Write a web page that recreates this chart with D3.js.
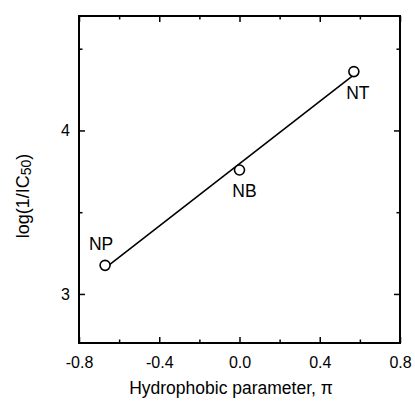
<!DOCTYPE html>
<html>
<head>
<meta charset="utf-8">
<script src="https://cdn.jsdelivr.net/npm/d3@7"></script>
<style>
  body { margin: 0; background: #fff; }
  svg { font-family: "Liberation Sans", Arial, sans-serif; }
</style>
</head>
<body>
<div id="chart"></div>
<script>
// data
const compounds = ["NP", "NB", "NT"];
const piValues = [-0.67, 0.0, 0.57];
const logIC = [3.175, 3.758, 4.36];

const xMajor = [-0.8, -0.4, 0.0, 0.4, 0.8];
const xMinor = [-0.6, -0.2, 0.2, 0.6];
const yMajor = [3, 4];
const yMinor = [3.5, 4.5];

const width = 415, height = 411;
const margin = { top: 16, right: 15, bottom: 68, left: 79 };
const w = width - margin.left - margin.right;
const h = height - margin.top - margin.bottom;

const svg = d3.select("#chart").append("svg")
  .attr("width", width)
  .attr("height", height);

const g = svg.append("g")
  .attr("transform", `translate(${margin.left},${margin.top})`);

const x = d3.scaleLinear().domain([-0.8, 0.8]).range([0, w]);
const y = d3.scaleLinear().domain([2.7, 4.7]).range([h, 0]);

// ticks point inward on all four sides
function drawAxis(axisFn, scale, major, minor, transform, fmt, pad) {
  const major_ = g.append("g").attr("transform", transform)
    .call(axisFn(scale).tickValues(major).tickSizeInner(-6).tickSizeOuter(0)
      .tickPadding(pad).tickFormat(fmt));
  g.append("g").attr("transform", transform)
    .call(axisFn(scale).tickValues(minor).tickSizeInner(-3.5).tickSizeOuter(0).tickFormat(""));
  return major_;
}

const xb = drawAxis(d3.axisBottom, x, xMajor, xMinor, `translate(0,${h})`, d3.format(".1f"), 14);
drawAxis(d3.axisTop, x, xMajor, xMinor, "translate(0,0)", "", 0);
const yl = drawAxis(d3.axisLeft, y, yMajor, yMinor, "translate(0,0)", d3.format("d"), 9);
drawAxis(d3.axisRight, y, yMajor, yMinor, `translate(${w},0)`, "", 0);

g.selectAll(".domain").remove();
g.selectAll(".tick line").attr("stroke", "#000").attr("stroke-width", 1.5);
g.selectAll(".tick text").attr("font-size", 16).attr("fill", "#000")
  .attr("font-family", "Liberation Sans, Arial, sans-serif");
xb.selectAll(".tick text").text(d => d3.format(".1f")(d).replace("−", "-"));

g.append("rect")
  .attr("width", w).attr("height", h)
  .attr("fill", "none").attr("stroke", "#000").attr("stroke-width", 2);

// least squares fit through the three points
const mx = d3.mean(piValues), my = d3.mean(logIC);
const sxy = d3.sum(piValues, (v, i) => (v - mx) * (logIC[i] - my));
const sxx = d3.sum(piValues, v => (v - mx) * (v - mx));
const slope = sxy / sxx, icpt = my - slope * mx;
const xr = d3.extent(piValues);

g.append("path")
  .datum(xr)
  .attr("d", d3.line().x(d => x(d)).y(d => y(icpt + slope * d)))
  .attr("fill", "none").attr("stroke", "#000").attr("stroke-width", 1.6);

const pts = compounds.map((c, i) => ({ name: c, x: piValues[i], y: logIC[i] }));

g.selectAll("circle").data(pts).enter().append("circle")
  .attr("cx", d => x(d.x)).attr("cy", d => y(d.y)).attr("r", 5)
  .attr("fill", "#fff").attr("stroke", "#000").attr("stroke-width", 1.6);

const labelOffset = { NP: [-4, -15], NB: [5, 27], NT: [4, 27] };
g.selectAll(".lbl").data(pts).enter().append("text")
  .attr("class", "lbl")
  .attr("x", d => x(d.x) + labelOffset[d.name][0])
  .attr("y", d => y(d.y) + labelOffset[d.name][1])
  .attr("text-anchor", "middle")
  .attr("font-size", 17.5)
  .text(d => d.name);

// axis titles
svg.append("text")
  .attr("x", 231).attr("y", 394)
  .attr("text-anchor", "middle")
  .attr("font-size", 17.5)
  .text("Hydrophobic parameter, π");

const yt = svg.append("text")
  .attr("transform", `translate(29,196) rotate(-90)`)
  .attr("text-anchor", "middle")
  .attr("font-size", 18);
yt.append("tspan").text("log(1/IC");
yt.append("tspan").attr("font-size", 14).attr("dy", 2).text("50");
yt.append("tspan").attr("dy", -2).text(")");
</script>
</body>
</html>
